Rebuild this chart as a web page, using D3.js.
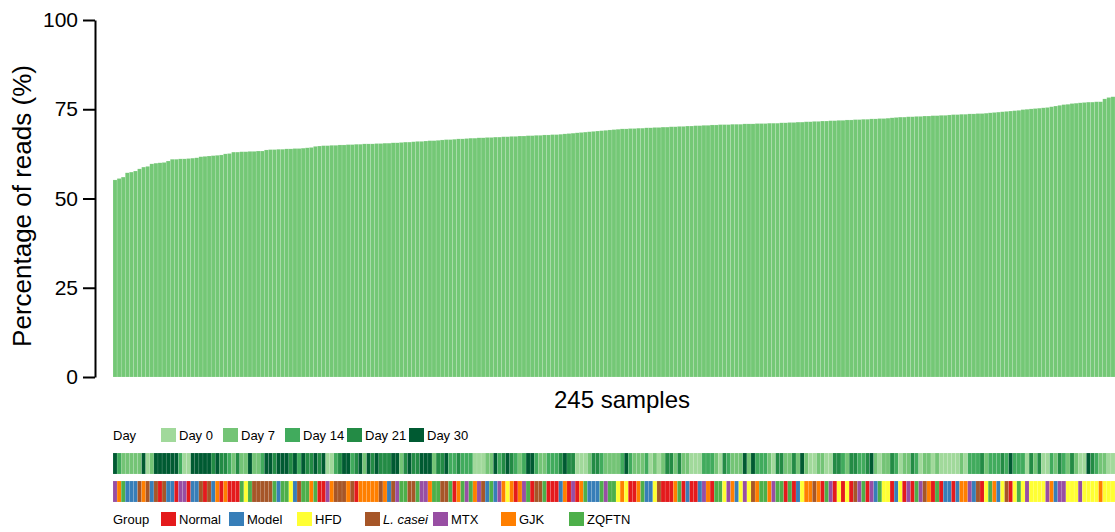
<!DOCTYPE html>
<html>
<head>
<meta charset="utf-8">
<script src="https://cdn.jsdelivr.net/npm/d3@7"></script>
<style>
html,body{margin:0;padding:0;background:#fff;}
svg{display:block;font-family:"Liberation Sans",Arial,sans-serif;}
</style>
</head>
<body>
<svg id="chart" width="1115" height="532"></svg>
<script>
// ---- data ----
const readPct = [
55.2,55.6,56.0,57.2,57.4,57.7,58.3,58.8,59.0,59.7,59.9,60.0,60.1,60.5,61.0,61.0,61.1,61.1,61.2,61.3,
61.4,61.7,61.8,61.9,62.0,62.1,62.2,62.5,62.6,63.0,63.0,63.1,63.1,63.2,63.2,63.3,63.3,63.6,63.7,63.7,
63.8,63.8,63.9,63.9,64.0,64.0,64.1,64.2,64.3,64.6,64.7,64.8,64.8,64.9,64.9,65.0,65.0,65.1,65.1,65.2,
65.2,65.3,65.3,65.3,65.4,65.4,65.5,65.5,65.6,65.6,65.7,65.8,65.8,65.9,66.0,66.0,66.1,66.2,66.2,66.3,
66.4,66.5,66.5,66.6,66.7,66.7,66.8,66.9,66.9,67.0,67.0,67.1,67.1,67.2,67.2,67.3,67.3,67.4,67.4,67.5,
67.5,67.6,67.6,67.7,67.7,67.8,67.8,67.9,67.9,68.0,68.1,68.2,68.3,68.4,68.5,68.6,68.7,68.8,68.9,69.0,
69.1,69.2,69.3,69.4,69.5,69.5,69.6,69.6,69.7,69.7,69.8,69.8,69.9,69.9,70.0,70.0,70.1,70.1,70.2,70.2,
70.3,70.3,70.4,70.4,70.5,70.5,70.6,70.6,70.7,70.7,70.7,70.8,70.8,70.8,70.9,70.9,70.9,71.0,71.0,71.0,
71.1,71.1,71.1,71.2,71.2,71.3,71.3,71.4,71.4,71.5,71.5,71.6,71.6,71.7,71.7,71.8,71.8,71.9,71.9,72.0,
72.0,72.1,72.1,72.2,72.2,72.3,72.3,72.4,72.4,72.5,72.6,72.7,72.8,72.8,72.9,72.9,73.0,73.0,73.1,73.1,
73.2,73.2,73.3,73.3,73.4,73.5,73.5,73.6,73.6,73.7,73.7,73.8,73.8,73.9,74.0,74.1,74.2,74.3,74.4,74.5,
74.6,74.7,74.9,75.0,75.1,75.2,75.3,75.4,75.5,75.7,75.9,76.1,76.3,76.4,76.6,76.7,76.8,76.9,77.0,77.0,
77.1,77.1,77.9,78.3,78.5
];
// day index per sample (0..4 -> dayLabels)
const sampleDay = (
 "4211111401444444200444443433213114112443" +
 "444342433434002344234143433344134334441334" +
 "22322200011423432124421122234330001332111" +
 "12421112010133131100022210321114142221033" +
 "11314100110033213322341011320113201101000" +
 "0010222312223242220313002132131004321100").split("").map(Number);
// group code per sample
const sampleGroup = (
 "XGZMMMLGLMLNLMMNXXNMMLNLMGNGNNNZHZLLLLLZ" +
 "MZZHMLZZGZNNXGLLLGLNGGGGGLGMLXZZLLZXXGZZLL" +
 "ZNGZXZGXLMZMXGHGNGXZNLLZNNNMGNXNGZMMMZXZZ" +
 "HGHNNGZMMHLNNNGZNMNNMXGNZZHXGMHXHLGZZGXZZ" +
 "NZNMHGGLGNZXNHNHNLXZNXMZHHNMHNXNZXLGNZNMM" +
 "NMGGXMLNHZGMHLNHZHXHHHHXGMXXHHHXHHHHGHHH").split("");
const dayLabels = ["Day 0","Day 7","Day 14","Day 21","Day 30"];
const dayColors = ["#a1d99b","#74c476","#41ab5d","#238b45","#005a32"];
const groupCodes = ["N","M","H","L","X","G","Z"];
const groupLabels = ["Normal","Model","HFD","L. casei","MTX","GJK","ZQFTN"];
const groupColors = ["#e41a1c","#377eb8","#ffff33","#a65628","#984ea3","#ff7f00","#4daf4a"];
const yTicks = [0,25,50,75,100];

// ---- drawing ----
const svg = d3.select("#chart");
const x0 = 113, x1 = 1115, yTop = 20, yBot = 377;
const idx = d3.range(readPct.length);
const x = d3.scaleBand().domain(idx).range([x0, x1]).padding(0);
const y = d3.scaleLinear().domain([0,100]).range([yBot, yTop]);
const dayColor = d3.scaleOrdinal().domain(d3.range(5)).range(dayColors);
const groupColor = d3.scaleOrdinal().domain(groupCodes).range(groupColors);

svg.append("g").selectAll("rect").data(readPct).join("rect")
  .attr("x", (d,i) => x(i))
  .attr("width", x.bandwidth())
  .attr("y", d => y(d))
  .attr("height", d => yBot - y(d))
  .attr("fill", "#74c876")
  .attr("stroke", "rgba(255,255,255,0.35)")
  .attr("stroke-width", 0.4);

const yAxis = d3.axisLeft(y).tickValues(yTicks).tickSize(12).tickSizeOuter(0).tickPadding(5);
const ga = svg.append("g").attr("transform", "translate(95,0)").call(yAxis);
ga.select(".domain").attr("stroke", "#000").attr("stroke-width", 2);
ga.selectAll(".tick line").attr("stroke", "#000").attr("stroke-width", 2);
ga.selectAll(".tick text").attr("font-size", 21).attr("fill", "#000")
  .attr("font-family", "Liberation Sans, Arial, sans-serif");

svg.append("text").attr("transform", "translate(31,206) rotate(-90)")
  .attr("text-anchor", "middle").attr("font-size", 26).attr("fill", "#000")
  .text("Percentage of reads (%)");

svg.append("text").attr("x", 622).attr("y", 408).attr("text-anchor", "middle")
  .attr("font-size", 24).attr("fill", "#000").text(readPct.length + " samples");

// day strip
svg.append("g").selectAll("rect").data(sampleDay).join("rect")
  .attr("x", (d,i) => x(i)).attr("width", x.bandwidth())
  .attr("y", 453).attr("height", 21)
  .attr("fill", d => dayColor(d))
  .attr("stroke", "rgba(255,255,255,0.25)").attr("stroke-width", 0.4);

// group strip
svg.append("g").selectAll("rect").data(sampleGroup).join("rect")
  .attr("x", (d,i) => x(i)).attr("width", x.bandwidth())
  .attr("y", 481).attr("height", 21)
  .attr("fill", d => groupColor(d))
  .attr("stroke", "rgba(255,255,255,0.25)").attr("stroke-width", 0.4);

// legends
const dayLeg = svg.append("g");
dayLeg.append("text").attr("x", 113).attr("y", 440).attr("font-size", 13).text("Day");
const dl = dayLeg.selectAll("g.item").data(dayLabels).join("g").attr("class","item")
  .attr("transform", (d,i) => `translate(${161 + i*62},0)`);
dl.append("rect").attr("x",0).attr("y",428).attr("width",15).attr("height",14)
  .attr("fill",(d,i)=>dayColors[i]);
dl.append("text").attr("x",18).attr("y",440).attr("font-size",13).text(d=>d);

const grpLeg = svg.append("g");
grpLeg.append("text").attr("x", 113).attr("y", 524).attr("font-size", 13).text("Group");
const gl = grpLeg.selectAll("g.item").data(groupLabels).join("g").attr("class","item")
  .attr("transform", (d,i) => `translate(${161 + i*68},0)`);
gl.append("rect").attr("x",0).attr("y",512).attr("width",15).attr("height",14)
  .attr("fill",(d,i)=>groupColors[i]);
gl.append("text").attr("x",18).attr("y",524).attr("font-size",13)
  .attr("font-style", d => d === "L. casei" ? "italic" : "normal")
  .text(d=>d);
</script>
</body>
</html>
